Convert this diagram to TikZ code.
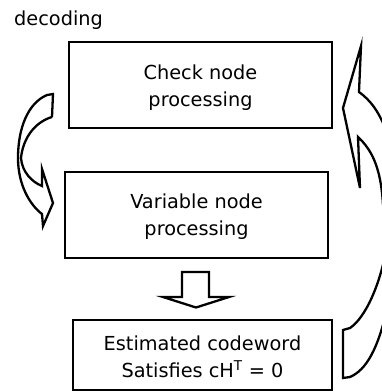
\documentclass[tikz,border=0pt]{standalone}
\usepackage{fontspec}
\setmainfont{DejaVu Sans}
\begin{document}
\begin{tikzpicture}[x=1pt,y=-1pt,
  txtfont/.style={font=\fontsize{19.3}{27}\selectfont},
  box/.style={draw, line width=2.8pt, inner sep=0pt},
  boxtext/.style={align=center, inner sep=0pt, txtfont},
  outline/.style={draw, line width=2.3pt, line join=miter, line cap=butt}]
\useasboundingbox (0,0) rectangle (382,392);
\clip (0,0) rectangle (382,392);

% title
\node[txtfont, anchor=base west, inner sep=0pt] (title) at (14,25) {decoding};

% processing stages: frames, then their captions set a little below centre
\node[box, minimum width=263pt, minimum height=86pt] (check) at (200.5,85) {};
\node[box, minimum width=263pt, minimum height=86pt] (var) at (196.5,215) {};
\node[box, minimum width=259pt, minimum height=70pt] (est) at (202.5,355) {};
\node[boxtext] (checktext) at ([yshift=-2.5pt]check.center) {Check node\\processing};
\node[boxtext] (vartext) at ([yshift=-2pt]var.center) {Variable node\\processing};
\node[boxtext] (esttext) at ([yshift=-2pt]est.center) {Estimated codeword\\Satisfies cH\textsuperscript{T} = 0};

% block arrow from variable node processing down to the estimate
\draw[outline] (182,272) -- (209,272) -- (209,297) -- (229,297) -- (196,307.5)
  -- (163,297) -- (182,297) -- cycle;

% curved ribbon arrow: check node -> variable node (left side)
\draw[outline] (52,117) -- (53,94) -- (47,95)
  .. controls (28,103) and (18,128) .. (18,158)
  .. controls (18,185) and (30,205) .. (42,214)
  -- (43,226) -- (53,203) -- (42,169) -- (42,186)
  .. controls (32,182) and (22,172) .. (21,158)
  .. controls (23,138) and (35,122) .. (52,117);

% curved ribbon arrow: estimate -> check node (right side, running off the edge)
\draw[outline] (388,240) .. controls (381,285) and (365,318) .. (350,328)
  -- (343,330) -- (343,378) -- (350,377)
  .. controls (366,370) and (378,350) .. (388,305);
\draw[outline] (386,130) .. controls (378,110) and (370,100) .. (359,92)
  -- (361,46) -- (343,108) -- (360,188) -- (358,137)
  .. controls (372,150) and (381,168) .. (383,205);
\end{tikzpicture}
\end{document}
